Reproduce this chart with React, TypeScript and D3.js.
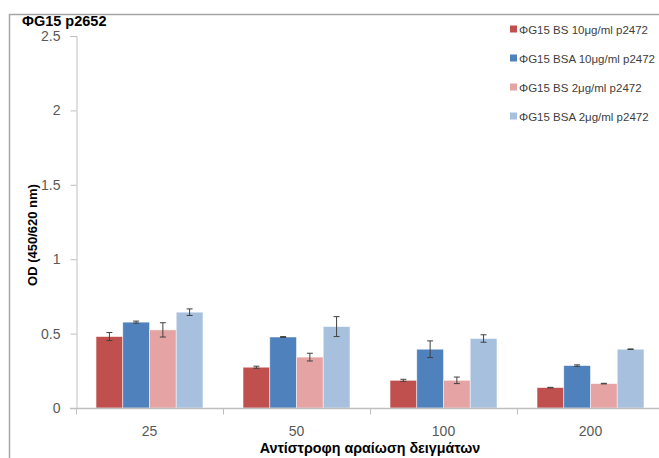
import { useRef, useEffect } from "react";
import * as d3 from "d3";

const categories = ["25", "50", "100", "200"];
const seriesNames = [
  "ΦG15 BS 10μg/ml p2472",
  "ΦG15 BSA 10μg/ml p2472",
  "ΦG15 BS 2μg/ml p2472",
  "ΦG15 BSA 2μg/ml p2472",
];
const seriesColors = ["#C0504D", "#4F81BD", "#E5A4A3", "#A7C0DE"];
// one array per series, in category order
const bs10 = [0.48, 0.274, 0.186, 0.137];
const bsa10 = [0.577, 0.477, 0.395, 0.285];
const bs2 = [0.525, 0.342, 0.186, 0.164];
const bsa2 = [0.644, 0.547, 0.467, 0.395];
const bs10Err = [0.027, 0.007, 0.007, 0.002];
const bsa10Err = [0.007, 0.003, 0.056, 0.005];
const bs2Err = [0.048, 0.026, 0.022, 0.002];
const bsa2Err = [0.022, 0.067, 0.025, 0.002];
const yTicks = [0, 0.5, 1, 1.5, 2, 2.5];

const W = 659;
const H = 458;
const FONT = "'Liberation Sans', Arial, sans-serif";

export default function App() {
  const svgRef = useRef<SVGSVGElement | null>(null);

  useEffect(() => {
    if (!svgRef.current) return;
    const svg = d3.select(svgRef.current);
    svg.selectAll("*").remove();

    const values = [bs10, bsa10, bs2, bsa2];
    const errors = [bs10Err, bsa10Err, bs2Err, bsa2Err];

    // outer frame
    svg.append("path")
      .attr("d", `M9.5,${H} V14.5 H${W}`)
      .attr("fill", "none")
      .attr("stroke", "#a6a6a6")
      .attr("stroke-width", 1.5);

    const x = d3.scaleBand().domain(categories).range([76, 664]).padding(0);
    const xs = d3.scaleBand()
      .domain(seriesNames)
      .range([0, x.bandwidth()])
      .paddingInner(0)
      .paddingOuter(0.75);
    const y = d3.scaleLinear().domain([0, 2.5]).range([408, 36]);

    // y axis
    const yAxis = svg.append("g")
      .attr("transform", "translate(76.5,0)")
      .call(d3.axisLeft(y).tickValues(yTicks).tickSize(6).tickPadding(10).tickFormat(d => String(d)));
    yAxis.select(".domain").attr("stroke", "#bfbfbf");
    yAxis.selectAll(".tick line").attr("stroke", "#bfbfbf");
    yAxis.selectAll("text")
      .attr("fill", "#595959")
      .attr("font-size", 14)
      .attr("font-family", FONT);

    // bars
    values.forEach((vals, si) => {
      svg.append("g")
        .selectAll("rect")
        .data(vals)
        .join("rect")
        .attr("x", (_, i) => (x(categories[i]) || 0) + (xs(seriesNames[si]) || 0))
        .attr("y", d => y(d))
        .attr("width", xs.bandwidth())
        .attr("height", d => y(0) - y(d))
        .attr("fill", seriesColors[si])
        .attr("stroke", "#ffffff")
        .attr("stroke-opacity", 0.6)
        .attr("stroke-width", 0.8);
    });

    // error bars
    values.forEach((vals, si) => {
      const g = svg.append("g").attr("stroke", "#404040").attr("stroke-width", 1);
      vals.forEach((v, i) => {
        const cx = (x(categories[i]) || 0) + (xs(seriesNames[si]) || 0) + xs.bandwidth() / 2;
        const e = errors[si][i];
        const y1 = y(v + e);
        const y2 = y(v - e);
        g.append("line").attr("x1", cx).attr("x2", cx).attr("y1", y1).attr("y2", y2);
        g.append("line").attr("x1", cx - 3).attr("x2", cx + 3).attr("y1", y1).attr("y2", y1);
        g.append("line").attr("x1", cx - 3).attr("x2", cx + 3).attr("y1", y2).attr("y2", y2);
      });
    });

    // x axis
    const xAxis = svg.append("g").attr("transform", "translate(0,408.5)");
    xAxis.append("line")
      .attr("x1", 70).attr("x2", W)
      .attr("stroke", "#bfbfbf").attr("stroke-width", 1.5);
    const bounds = [...categories.map(c => x(c) || 0), 664];
    xAxis.selectAll(".xt")
      .data(bounds)
      .join("line")
      .attr("x1", d => d + 0.5).attr("x2", d => d + 0.5)
      .attr("y1", 0).attr("y2", 6)
      .attr("stroke", "#bfbfbf");
    xAxis.selectAll("text")
      .data(categories)
      .join("text")
      .attr("x", d => (x(d) || 0) + x.bandwidth() / 2)
      .attr("y", 27)
      .attr("text-anchor", "middle")
      .attr("fill", "#595959")
      .attr("font-size", 14)
      .attr("font-family", FONT)
      .text(d => d);

    // titles
    svg.append("text")
      .attr("x", 22).attr("y", 25.5)
      .attr("font-size", 14.5)
      .attr("font-weight", "bold")
      .attr("font-family", FONT)
      .attr("fill", "#000")
      .text("ΦG15 p2652");

    svg.append("text")
      .attr("transform", "translate(37,235) rotate(-90)")
      .attr("text-anchor", "middle")
      .attr("font-size", 13)
      .attr("font-weight", "bold")
      .attr("font-family", FONT)
      .text("OD (450/620 nm)");

    svg.append("text")
      .attr("x", 370).attr("y", 453)
      .attr("text-anchor", "middle")
      .attr("font-size", 14.3)
      .attr("font-weight", "bold")
      .attr("font-family", FONT)
      .text("Αντίστροφη αραίωση δειγμάτων");

    // legend
    const legend = svg.append("g");
    seriesNames.forEach((name, i) => {
      const ly = 29 + i * 29;
      legend.append("rect")
        .attr("x", 510).attr("y", ly - 3.5)
        .attr("width", 7).attr("height", 7)
        .attr("fill", seriesColors[i]);
      legend.append("text")
        .attr("x", 519).attr("y", ly + 4.5)
        .attr("font-size", 11.5)
        .attr("font-family", FONT)
        .attr("fill", "#404040")
        .text(name);
    });
  }, []);

  return (
    <div style={{ position: "absolute", left: 0, top: 0 }}>
      <svg ref={svgRef} width={W} height={H} style={{ display: "block", background: "#fff" }} />
    </div>
  );
}
